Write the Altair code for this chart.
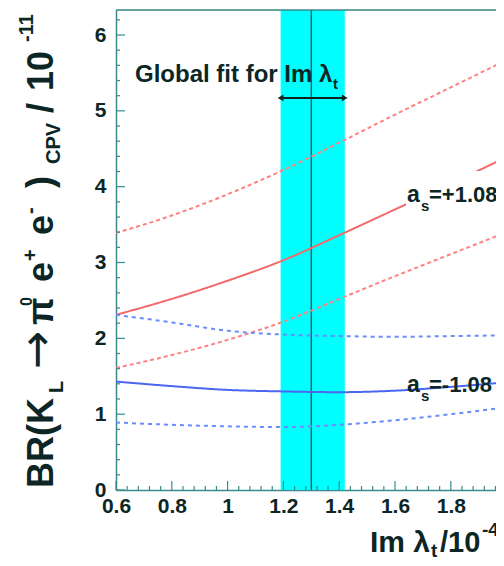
import altair as alt
import pandas as pd

# ---------------- data ----------------
im_lambda = [0.6, 0.8, 1.0, 1.2, 1.4, 1.6, 1.8, 2.0]
plus_upper = [3.39, 3.62, 3.90, 4.22, 4.58, 4.95, 5.31, 5.67]
plus_central = [2.31, 2.52, 2.76, 3.03, 3.36, 3.70, 4.04, 4.39]
plus_lower = [1.61, 1.78, 1.98, 2.22, 2.52, 2.82, 3.11, 3.40]
minus_upper = [2.31, 2.21, 2.10, 2.05, 2.03, 2.02, 2.03, 2.04]
minus_central = [1.43, 1.37, 1.32, 1.30, 1.29, 1.31, 1.36, 1.42]
minus_lower = [0.89, 0.86, 0.84, 0.83, 0.86, 0.92, 1.00, 1.09]

fit_center = [1.30]
fit_band = [1.19, 1.42]
arrow_level = [5.17]

x_ticks = [0.6, 0.8, 1.0, 1.2, 1.4, 1.6, 1.8, 2.0]
y_ticks = [0, 1, 2, 3, 4, 5, 6]

# ---------------- layout / style ----------------
W, H = 380, 480
X_DOMAIN = [0.6, 1.962]   # the reference is cut just before x = 2
Y_DOMAIN = [0, 6.33]
FONT = "Liberation Sans"
TXT = "#0c2626"
AX = "#3a8a8a"

xs = alt.Scale(domain=X_DOMAIN, nice=False, zero=False)
ys = alt.Scale(domain=Y_DOMAIN, nice=False, zero=False)
xaxis = alt.Axis(values=x_ticks[:-1], format="~g", title=None, ticks=False, tickSize=0,
                 grid=False, labelFont=FONT, labelFontSize=21, labelFontWeight="bold",
                 labelColor=TXT, domainColor=AX, domainWidth=1.5, labelPadding=5,
                 labelFlush=False, labelOverlap=False)
yaxis = alt.Axis(values=y_ticks, format="d", title=None, ticks=False, tickSize=0,
                 grid=False, labelFont=FONT, labelFontSize=21, labelFontWeight="bold",
                 labelColor=TXT, domainColor=AX, domainWidth=1.5, labelPadding=10,
                 labelFlush=False, labelOverlap=False)

def X(field):
    return alt.X(field, scale=xs, axis=xaxis)

def Y(field):
    return alt.Y(field, scale=ys, axis=yaxis)

# ---------------- curves ----------------
series = {
    "plus_upper": plus_upper,
    "plus_central": plus_central,
    "plus_lower": plus_lower,
    "minus_upper": minus_upper,
    "minus_central": minus_central,
    "minus_lower": minus_lower,
}
rows = []
for name, vals in series.items():
    for xv, yv in zip(im_lambda, vals):
        rows.append({"x": xv, "y": yv, "series": name})
curves = pd.DataFrame(rows)
names = list(series.keys())
colors = ["#ff8282", "#f26a6a", "#ff8282", "#6a8cff", "#4a66f2", "#6a8cff"]
dashes = [[4, 3], [1, 0], [4, 3], [4, 4], [1, 0], [4, 4]]

lines = alt.Chart(curves).mark_line(interpolate="monotone", strokeWidth=2, clip=True).encode(
    x=X("x:Q"), y=Y("y:Q"),
    color=alt.Color("series:N", scale=alt.Scale(domain=names, range=colors), legend=None),
    strokeDash=alt.StrokeDash("series:N", scale=alt.Scale(domain=names, range=dashes), legend=None),
    detail="series:N",
)

band = alt.Chart(pd.DataFrame({"lo": [fit_band[0]], "hi": [fit_band[1]]})).mark_rect(
    color="#00ffff").encode(x=X("lo:Q"), x2="hi:Q", y=alt.value(0), y2=alt.value(H))

center = alt.Chart(pd.DataFrame({"c": fit_center})).mark_rule(
    color="#2a6464", strokeWidth=1.5).encode(x=X("c:Q"), y=alt.value(0), y2=alt.value(H))

arrow_df = pd.DataFrame({"lo": [fit_band[0]], "hi": [fit_band[1]], "y": arrow_level})
arrow = alt.Chart(arrow_df).mark_rule(color=TXT, strokeWidth=2).encode(
    x=X("lo:Q"), x2="hi:Q", y=Y("y:Q"))
heads_df = pd.DataFrame({"x": fit_band, "y": arrow_level * 2,
                         "shape": ["triangle-left", "triangle-right"]})
heads = alt.Chart(heads_df).mark_point(filled=True, size=45, color=TXT, opacity=1).encode(
    x=X("x:Q"), y=Y("y:Q"), shape=alt.Shape("shape:N", scale=None))

# ---------------- inside ticks + top border ----------------
y_minor = [round(0.2 * i, 2) for i in range(32) if i % 5 != 0]
x_minor = [round(0.6 + 0.04 * i, 2) for i in range(35) if i % 5 != 0]

def yt(vals, length):
    return alt.Chart(pd.DataFrame({"v": vals})).mark_rule(color=AX, strokeWidth=1.2).encode(
        y=Y("v:Q"), x=alt.value(0), x2=alt.value(length))

def xt(vals, length):
    return alt.Chart(pd.DataFrame({"v": vals})).mark_rule(color=AX, strokeWidth=1.2).encode(
        x=X("v:Q"), y=alt.value(H), y2=alt.value(H - length))

top = alt.Chart(pd.DataFrame({"v": [0]})).mark_rule(color=AX, strokeWidth=1.5).encode(
    x=alt.value(0), x2=alt.value(W), y=alt.value(0))

# ---------------- text pieces ----------------
def txt(text, px, py, size, angle=0, color=TXT, font=FONT, weight="bold"):
    return alt.Chart(pd.DataFrame({"t": [text]})).mark_text(
        font=font, fontWeight=weight, fontSize=size, angle=angle, align="left",
        baseline="alphabetic", color=color).encode(
        text="t:N", x=alt.value(px), y=alt.value(py))

def box(x0, x1, y0, y1):
    return alt.Chart(pd.DataFrame({"v": [0]})).mark_rect(color="white").encode(
        x=alt.value(x0), x2=alt.value(x1), y=alt.value(y0), y2=alt.value(y1))

ytitle = [
    txt("BR(K", -63, 478, 36, 270),
    txt("L", -53, 383, 20, 270),
    txt("\u2192", -64, 359, 46, 270, font="DejaVu Sans", weight="normal"),
    txt("\u03c0", -63, 315, 36, 270),
    txt("0", -84, 296, 16, 270),
    txt("e", -63, 272, 36, 270),
    txt("+", -79, 251, 20, 270),
    txt("e", -63, 225, 36, 270),
    txt("-", -79, 204, 20, 270),
    txt(")", -64, 178, 36, 270),
    txt("CPV", -56, 154, 20, 270),
    txt("/", -63, 103, 36, 270),
    txt("10", -63, 81, 36, 270),
    txt("-11", -83, 32, 20, 270),
]
xtitle = [
    txt("Im \u03bb", 254, 542, 30),
    txt("t", 315, 547, 19),
    txt("/10", 324, 542, 29),
    txt("-4", 366, 526, 19),
]
notes = [
    txt("Global fit for Im \u03bb", 19, 72, 24),
    txt("t", 217, 79, 15),
    box(290, W, 161, 202),
    txt("a", 291, 192, 23),
    txt("s", 305, 201, 15),
    txt("=+1.08", 313, 192, 22),
    txt("a", 291, 382, 23),
    txt("s", 305, 391, 15),
    txt("=-1.08", 313, 382, 22),
]

chart = alt.layer(
    band, center, lines, arrow, heads,
    yt(y_ticks, 9), yt(y_minor, 4), xt(x_ticks[:-1], 9), xt(x_minor, 4), top,
    *notes, *ytitle, *xtitle,
).properties(
    width=W, height=H,
    padding={"left": 108, "top": 2, "right": 0, "bottom": 68},
    autosize=alt.AutoSizeParams(type="none"),
).configure_view(stroke=None).configure(background="white")

chart.save("out.html", embed_options={"renderer": "svg", "actions": False})
